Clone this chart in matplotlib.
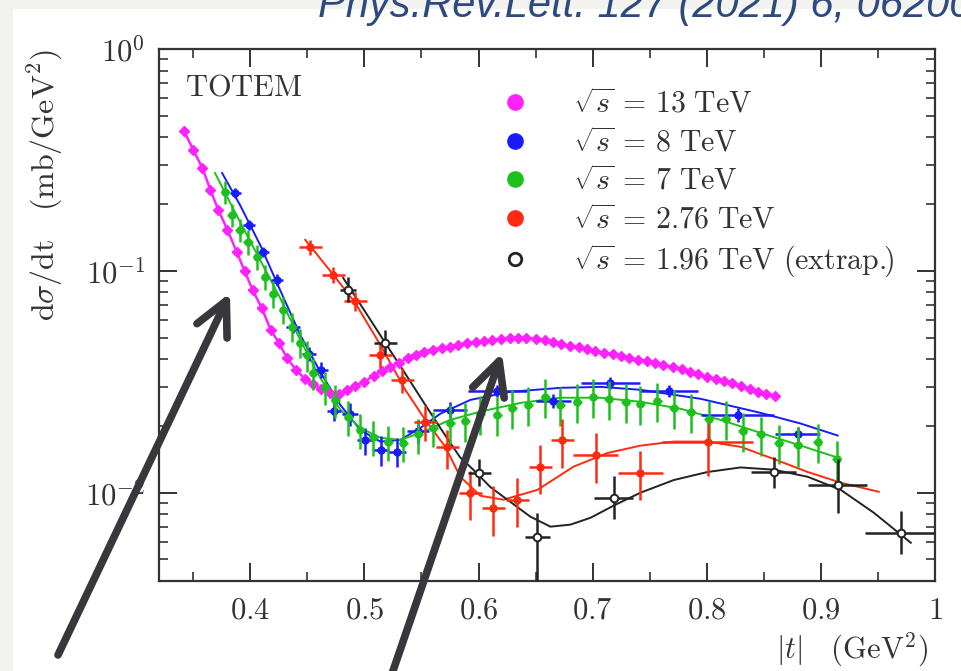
import matplotlib
matplotlib.use("Agg")
import matplotlib.pyplot as plt
from matplotlib.lines import Line2D
from matplotlib.patches import Rectangle
from matplotlib.ticker import FixedLocator, LogLocator, NullFormatter, MultipleLocator
import numpy as np

plt.rcParams['mathtext.fontset'] = 'cm'
plt.rcParams['font.family'] = ['DejaVu Serif']

# sqrt(s) = 13 TeV
t13 = [0.342, 0.350, 0.358, 0.365, 0.372, 0.380, 0.388, 0.395, 0.402,
       0.410, 0.418, 0.425, 0.432, 0.440, 0.448, 0.455, 0.462, 0.470,
       0.478, 0.485, 0.492, 0.500, 0.508, 0.515, 0.522, 0.530, 0.538,
       0.545, 0.552, 0.560, 0.568, 0.575, 0.582, 0.590, 0.598, 0.605,
       0.612, 0.620, 0.628, 0.635, 0.642, 0.650, 0.658, 0.665, 0.672,
       0.680, 0.688, 0.695, 0.702, 0.710, 0.718, 0.725, 0.732, 0.740,
       0.748, 0.755, 0.762, 0.770, 0.778, 0.785, 0.792, 0.800, 0.808,
       0.815, 0.822, 0.830, 0.838, 0.845, 0.852, 0.860]
ds13 = [0.427, 0.351, 0.291, 0.232, 0.188, 0.153, 0.122, 0.100, 0.082,
        0.068, 0.054, 0.0474, 0.0406, 0.0358, 0.0326, 0.0310, 0.0294, 0.0282,
        0.0279, 0.0291, 0.0303, 0.0316, 0.0337, 0.0355, 0.0370, 0.0385, 0.0406,
        0.0418, 0.0432, 0.0441, 0.0450, 0.0455, 0.0464, 0.0474, 0.0479, 0.0484,
        0.0489, 0.0494, 0.0499, 0.0499, 0.0499, 0.0494, 0.0489, 0.0479, 0.0469,
        0.0459, 0.0455, 0.0445, 0.0436, 0.0427, 0.0423, 0.0414, 0.0406, 0.0397,
        0.0393, 0.0385, 0.0377, 0.0370, 0.0362, 0.0351, 0.0344, 0.0333, 0.0326,
        0.0320, 0.0313, 0.0303, 0.0294, 0.0285, 0.0279, 0.0273]

# sqrt(s) = 8 TeV
t8 = [0.387, 0.399, 0.411, 0.4235, 0.4375, 0.4516, 0.462, 0.4735, 0.4875, 0.5007,
      0.5147, 0.5288, 0.547, 0.5753, 0.6165, 0.6656, 0.7156, 0.7665, 0.827, 0.8796]
ds8 = [0.2245, 0.161, 0.122, 0.0911, 0.056, 0.0423, 0.0358, 0.0234, 0.0227, 0.0172,
       0.0156, 0.0153, 0.0190, 0.0237, 0.0288, 0.0260, 0.0313, 0.0288, 0.0225, 0.0183]
dt8 = [0.005, 0.005, 0.005, 0.005, 0.006, 0.006, 0.006, 0.006, 0.007, 0.007,
       0.007, 0.008, 0.010, 0.015, 0.026, 0.015, 0.026, 0.026, 0.032, 0.020]
err8 = [0.05, 0.05, 0.05, 0.06, 0.06, 0.07, 0.08, 0.10, 0.12, 0.14,
        0.15, 0.15, 0.12, 0.08, 0.06, 0.07, 0.06, 0.06, 0.07, 0.08]
fit8_t = [0.3753, 0.391, 0.4086, 0.4261, 0.4437, 0.4612, 0.4788, 0.4963, 0.5139, 0.5314,
          0.549, 0.5665, 0.5928, 0.6279, 0.6718, 0.7068, 0.7419, 0.7946, 0.8472, 0.8823, 0.9147]
fit8_ds = [0.276, 0.198, 0.131, 0.082, 0.0515, 0.0351, 0.0249, 0.0192, 0.0170, 0.0173,
           0.0196, 0.0227, 0.0262, 0.0285, 0.0297, 0.0300, 0.0291, 0.0265, 0.0229, 0.0205, 0.0181]

# sqrt(s) = 7 TeV
t7 = [0.3779, 0.384, 0.391, 0.398, 0.406, 0.413, 0.420, 0.429, 0.4367, 0.4437,
      0.4498, 0.4551, 0.4656, 0.4744, 0.4858, 0.4963, 0.5077, 0.5209, 0.534, 0.5472,
      0.5604, 0.5753, 0.5884, 0.6016, 0.6165, 0.6296, 0.6437, 0.6586, 0.6718, 0.6867,
      0.7007, 0.7139, 0.7288, 0.7419, 0.7568, 0.7709, 0.7858, 0.8016, 0.8165, 0.8314,
      0.8472, 0.863, 0.8796, 0.8972, 0.9139]
ds7 = [0.227, 0.179, 0.153, 0.135, 0.116, 0.094, 0.0788, 0.0668, 0.056, 0.0474,
       0.0418, 0.0347, 0.030, 0.0262, 0.022, 0.0192, 0.0179, 0.0170, 0.0168, 0.0183,
       0.0196, 0.0207, 0.0211, 0.0227, 0.0225, 0.0242, 0.0249, 0.0271, 0.0249, 0.0257,
       0.0271, 0.0265, 0.0257, 0.0252, 0.0260, 0.0242, 0.0232, 0.0215, 0.0215, 0.0190,
       0.0183, 0.0168, 0.0164, 0.0170, 0.0142]
err7 = [0.12, 0.12, 0.12, 0.13, 0.13, 0.13, 0.14, 0.14, 0.15, 0.15,
        0.16, 0.16, 0.17, 0.17, 0.18, 0.18, 0.18, 0.18, 0.18, 0.18,
        0.18, 0.20, 0.20, 0.20, 0.20, 0.20, 0.20, 0.20, 0.20, 0.20,
        0.20, 0.20, 0.20, 0.20, 0.20, 0.20, 0.20, 0.20, 0.20, 0.20,
        0.20, 0.20, 0.20, 0.20, 0.20]
fit7_t = [0.3691, 0.391, 0.4086, 0.4261, 0.4437, 0.4612, 0.4788, 0.4963, 0.5139, 0.5314,
          0.549, 0.5753, 0.6016, 0.6367, 0.6718, 0.7068, 0.7419, 0.777, 0.8121, 0.8472,
          0.8823, 0.9147]
fit7_ds = [0.276, 0.166, 0.112, 0.0755, 0.0489, 0.033, 0.0237, 0.0196, 0.0177, 0.0173,
           0.0186, 0.0213, 0.0232, 0.0254, 0.0268, 0.0268, 0.0257, 0.0239, 0.0213, 0.0186,
           0.0163, 0.0144]

# sqrt(s) = 2.76 TeV
t276 = [0.4525, 0.4726, 0.4919, 0.5139, 0.5332, 0.5533, 0.5726, 0.5928, 0.613, 0.634,
        0.6542, 0.6735, 0.7025, 0.7419, 0.8007]
ds276 = [0.128, 0.0959, 0.0732, 0.0418, 0.0323, 0.0209, 0.0160, 0.0100, 0.00855, 0.0093,
         0.0131, 0.0172, 0.0148, 0.0123, 0.0170]
dt276 = [0.01, 0.01, 0.01, 0.01, 0.01, 0.01, 0.01, 0.01, 0.01, 0.01,
         0.01, 0.01, 0.02, 0.02, 0.04]
err276 = [0.08, 0.08, 0.10, 0.13, 0.13, 0.18, 0.20, 0.25, 0.25, 0.25,
          0.25, 0.25, 0.25, 0.25, 0.30]
fit276_t = [0.4481, 0.47, 0.4919, 0.5139, 0.5358, 0.5533, 0.5709, 0.584, 0.6016, 0.6218,
            0.6516, 0.6832, 0.713, 0.7419, 0.7709, 0.8007, 0.8296, 0.8586, 0.8884, 0.9174, 0.9507]
fit276_ds = [0.138, 0.100, 0.0718, 0.0464, 0.0291, 0.0213, 0.0161, 0.0118, 0.00969, 0.0093,
             0.0103, 0.0131, 0.0151, 0.0163, 0.0170, 0.0170, 0.0161, 0.0142, 0.0124, 0.0111, 0.0101]

# sqrt(s) = 1.96 TeV (extrapolated)
t196 = [0.4858, 0.5182, 0.6007, 0.6516, 0.7183, 0.8586, 0.9147, 0.97]
ds196 = [0.082, 0.0474, 0.0123, 0.00634, 0.0095, 0.0124, 0.0108, 0.0066]
dt196 = [0.007, 0.010, 0.010, 0.011, 0.017, 0.020, 0.026, 0.031]
err196_lo = [0.12, 0.12, 0.13, 0.50, 0.20, 0.15, 0.25, 0.20]
err196_hi = [0.14, 0.14, 0.15, 0.28, 0.25, 0.17, 0.32, 0.25]
fit196_t = [0.4814, 0.5007, 0.5182, 0.5358, 0.5533, 0.5709, 0.584, 0.5954, 0.6104, 0.6253,
            0.6454, 0.663, 0.6805, 0.6981, 0.72, 0.7419, 0.7709, 0.8007, 0.8296, 0.8586,
            0.8884, 0.9174, 0.9463, 0.9788]
fit196_ds = [0.0929, 0.0654, 0.0474, 0.0344, 0.0249, 0.0181, 0.0144, 0.0127, 0.0106, 0.0093,
             0.0078, 0.00703, 0.00718, 0.00771, 0.00883, 0.0100, 0.0114, 0.0124, 0.0130, 0.0127,
             0.0118, 0.0103, 0.00813, 0.00595]

labels = [r'$\sqrt{s}\, = \,13\ \mathrm{TeV}$', r'$\sqrt{s}\, = \,8\ \mathrm{TeV}$',
          r'$\sqrt{s}\, = \,7\ \mathrm{TeV}$', r'$\sqrt{s}\, = \,2.76\ \mathrm{TeV}$',
          r'$\sqrt{s}\, = \,1.96\ \mathrm{TeV}\ \mathrm{(extrap.\!\!)}$']

c13, c8, c7, c276 = '#ff22ff', '#1a1aff', '#1ec01e', '#ff2a10'

fig = plt.figure(figsize=(9.62, 6.71), dpi=100)
fig.patch.set_facecolor('#f2f2ee')
fig.add_artist(Rectangle((13 / 962, 0), 1, (671 - 9) / 671, transform=fig.transFigure,
                         facecolor='white', edgecolor='none', zorder=-1))

ax = fig.add_axes([159 / 962, 90 / 671, 776 / 962, 532 / 671])

def rel(ds, e):
    return np.array(ds) * np.array(e)

# fits
ax.plot(fit8_t, fit8_ds, color=c8, lw=1.4, zorder=2)
ax.plot(fit7_t, fit7_ds, color=c7, lw=1.4, zorder=2)
ax.plot(fit276_t, fit276_ds, color=c276, lw=1.4, zorder=2)
ax.plot(fit196_t, fit196_ds, color='#222222', lw=1.4, zorder=2)

# data
ax.plot(t13, ds13, color=c13, lw=1.8, zorder=3)
ax.errorbar(t13, ds13, xerr=0.004, yerr=rel(ds13, [0.035] * len(ds13)), fmt='D', ms=5.5,
            color=c13, elinewidth=1.6, capsize=0, zorder=3)
ax.errorbar(t8, ds8, xerr=dt8, yerr=rel(ds8, err8), fmt='o', ms=5, color=c8,
            elinewidth=1.8, capsize=0, zorder=4)
ax.errorbar(t7, ds7, xerr=0.004, yerr=rel(ds7, err7), fmt='o', ms=5, color=c7,
            elinewidth=1.8, capsize=0, zorder=5)
ax.errorbar(t276, ds276, xerr=dt276, yerr=rel(ds276, err276), fmt='o', ms=5, color=c276,
            elinewidth=1.8, capsize=0, zorder=5)
ax.errorbar(t196, ds196, xerr=dt196, yerr=[rel(ds196, err196_lo), rel(ds196, err196_hi)],
            fmt='o', ms=5.5, mfc='white', mec='#222222', mew=1.4, color='#222222',
            elinewidth=1.8, capsize=0, zorder=6)

ax.set_xlim(0.32, 1.0)
ax.set_yscale('log')
ax.set_ylim(0.004, 1.0)

ax.xaxis.set_major_locator(FixedLocator([0.4, 0.5, 0.6, 0.7, 0.8, 0.9, 1.0]))
ax.set_xticklabels(['$0.4$', '$0.5$', '$0.6$', '$0.7$', '$0.8$', '$0.9$', '$1$'])
ax.xaxis.set_minor_locator(MultipleLocator(0.05))
ax.yaxis.set_major_locator(FixedLocator([0.01, 0.1, 1.0]))
ax.set_yticklabels(['$10^{-2}$', '$10^{-1}$', '$10^{0}$'])
ax.yaxis.set_minor_locator(LogLocator(base=10, subs=np.arange(2, 10)))
ax.yaxis.set_minor_formatter(NullFormatter())

ax.tick_params(which='both', direction='in', top=True, right=True, colors='#333333',
               labelcolor='#333333', labelsize=22)
ax.tick_params(which='major', length=13, width=1.4)
ax.tick_params(which='minor', length=6.5, width=1.2)
ax.tick_params(axis='x', pad=10)
ax.tick_params(axis='y', pad=10)
for s in ax.spines.values():
    s.set_linewidth(1.6)
    s.set_color('#333333')

ax.text(0.034, 0.9135, r'$\mathrm{TOTEM}$', transform=ax.transAxes, fontsize=22,
        color='#333333', va='baseline')

handles = [Line2D([], [], ls='none', marker='o', ms=11, color=c13),
           Line2D([], [], ls='none', marker='o', ms=11, color=c8),
           Line2D([], [], ls='none', marker='o', ms=11, color=c7),
           Line2D([], [], ls='none', marker='o', ms=11, color=c276),
           Line2D([], [], ls='none', marker='o', ms=9, mfc='white', mec='#222222', mew=2)]
leg = ax.legend(handles, labels, loc='upper left', bbox_to_anchor=(0.4394, 0.925),
                frameon=False, fontsize=21.5, handlelength=1.0, handletextpad=1.45,
                labelspacing=0.29, borderpad=0, borderaxespad=0)
for txt in leg.get_texts():
    txt.set_color('#333333')

fig.text(45 / 962, 486 / 671, r'$\mathrm{d}\sigma/\mathrm{dt}\quad(\mathrm{mb/GeV}^2)$',
         rotation=90, ha='center', va='center', fontsize=23, color='#333333')
fig.text(928 / 962, 21 / 671, r'$|t|\quad(\mathrm{GeV}^2)$', ha='right', va='center',
         fontsize=22, color='#333333')

fig.text(318 / 962, 654 / 671, 'Phys.Rev.Lett. 127 (2021) 6, 062003', fontstyle='italic',
         family='Liberation Sans', fontsize=30, color='#2d4a80', va='baseline')

# annotation arrows
arrow = dict(arrowstyle='->,head_length=1.2,head_width=0.6', mutation_scale=20, lw=5.5,
             color='#38373c', shrinkA=0, shrinkB=0, capstyle='round', joinstyle='round')
ax.annotate('', xy=(230, 671 - 293), xytext=(58, 671 - 655), xycoords='figure pixels',
            textcoords='figure pixels', arrowprops=arrow, annotation_clip=False, zorder=10)
ax.annotate('', xy=(502, 671 - 353), xytext=(383, 671 - 700), xycoords='figure pixels',
            textcoords='figure pixels', arrowprops=arrow, annotation_clip=False, zorder=10)

fig.savefig('out.png', dpi=100, facecolor=fig.get_facecolor())
